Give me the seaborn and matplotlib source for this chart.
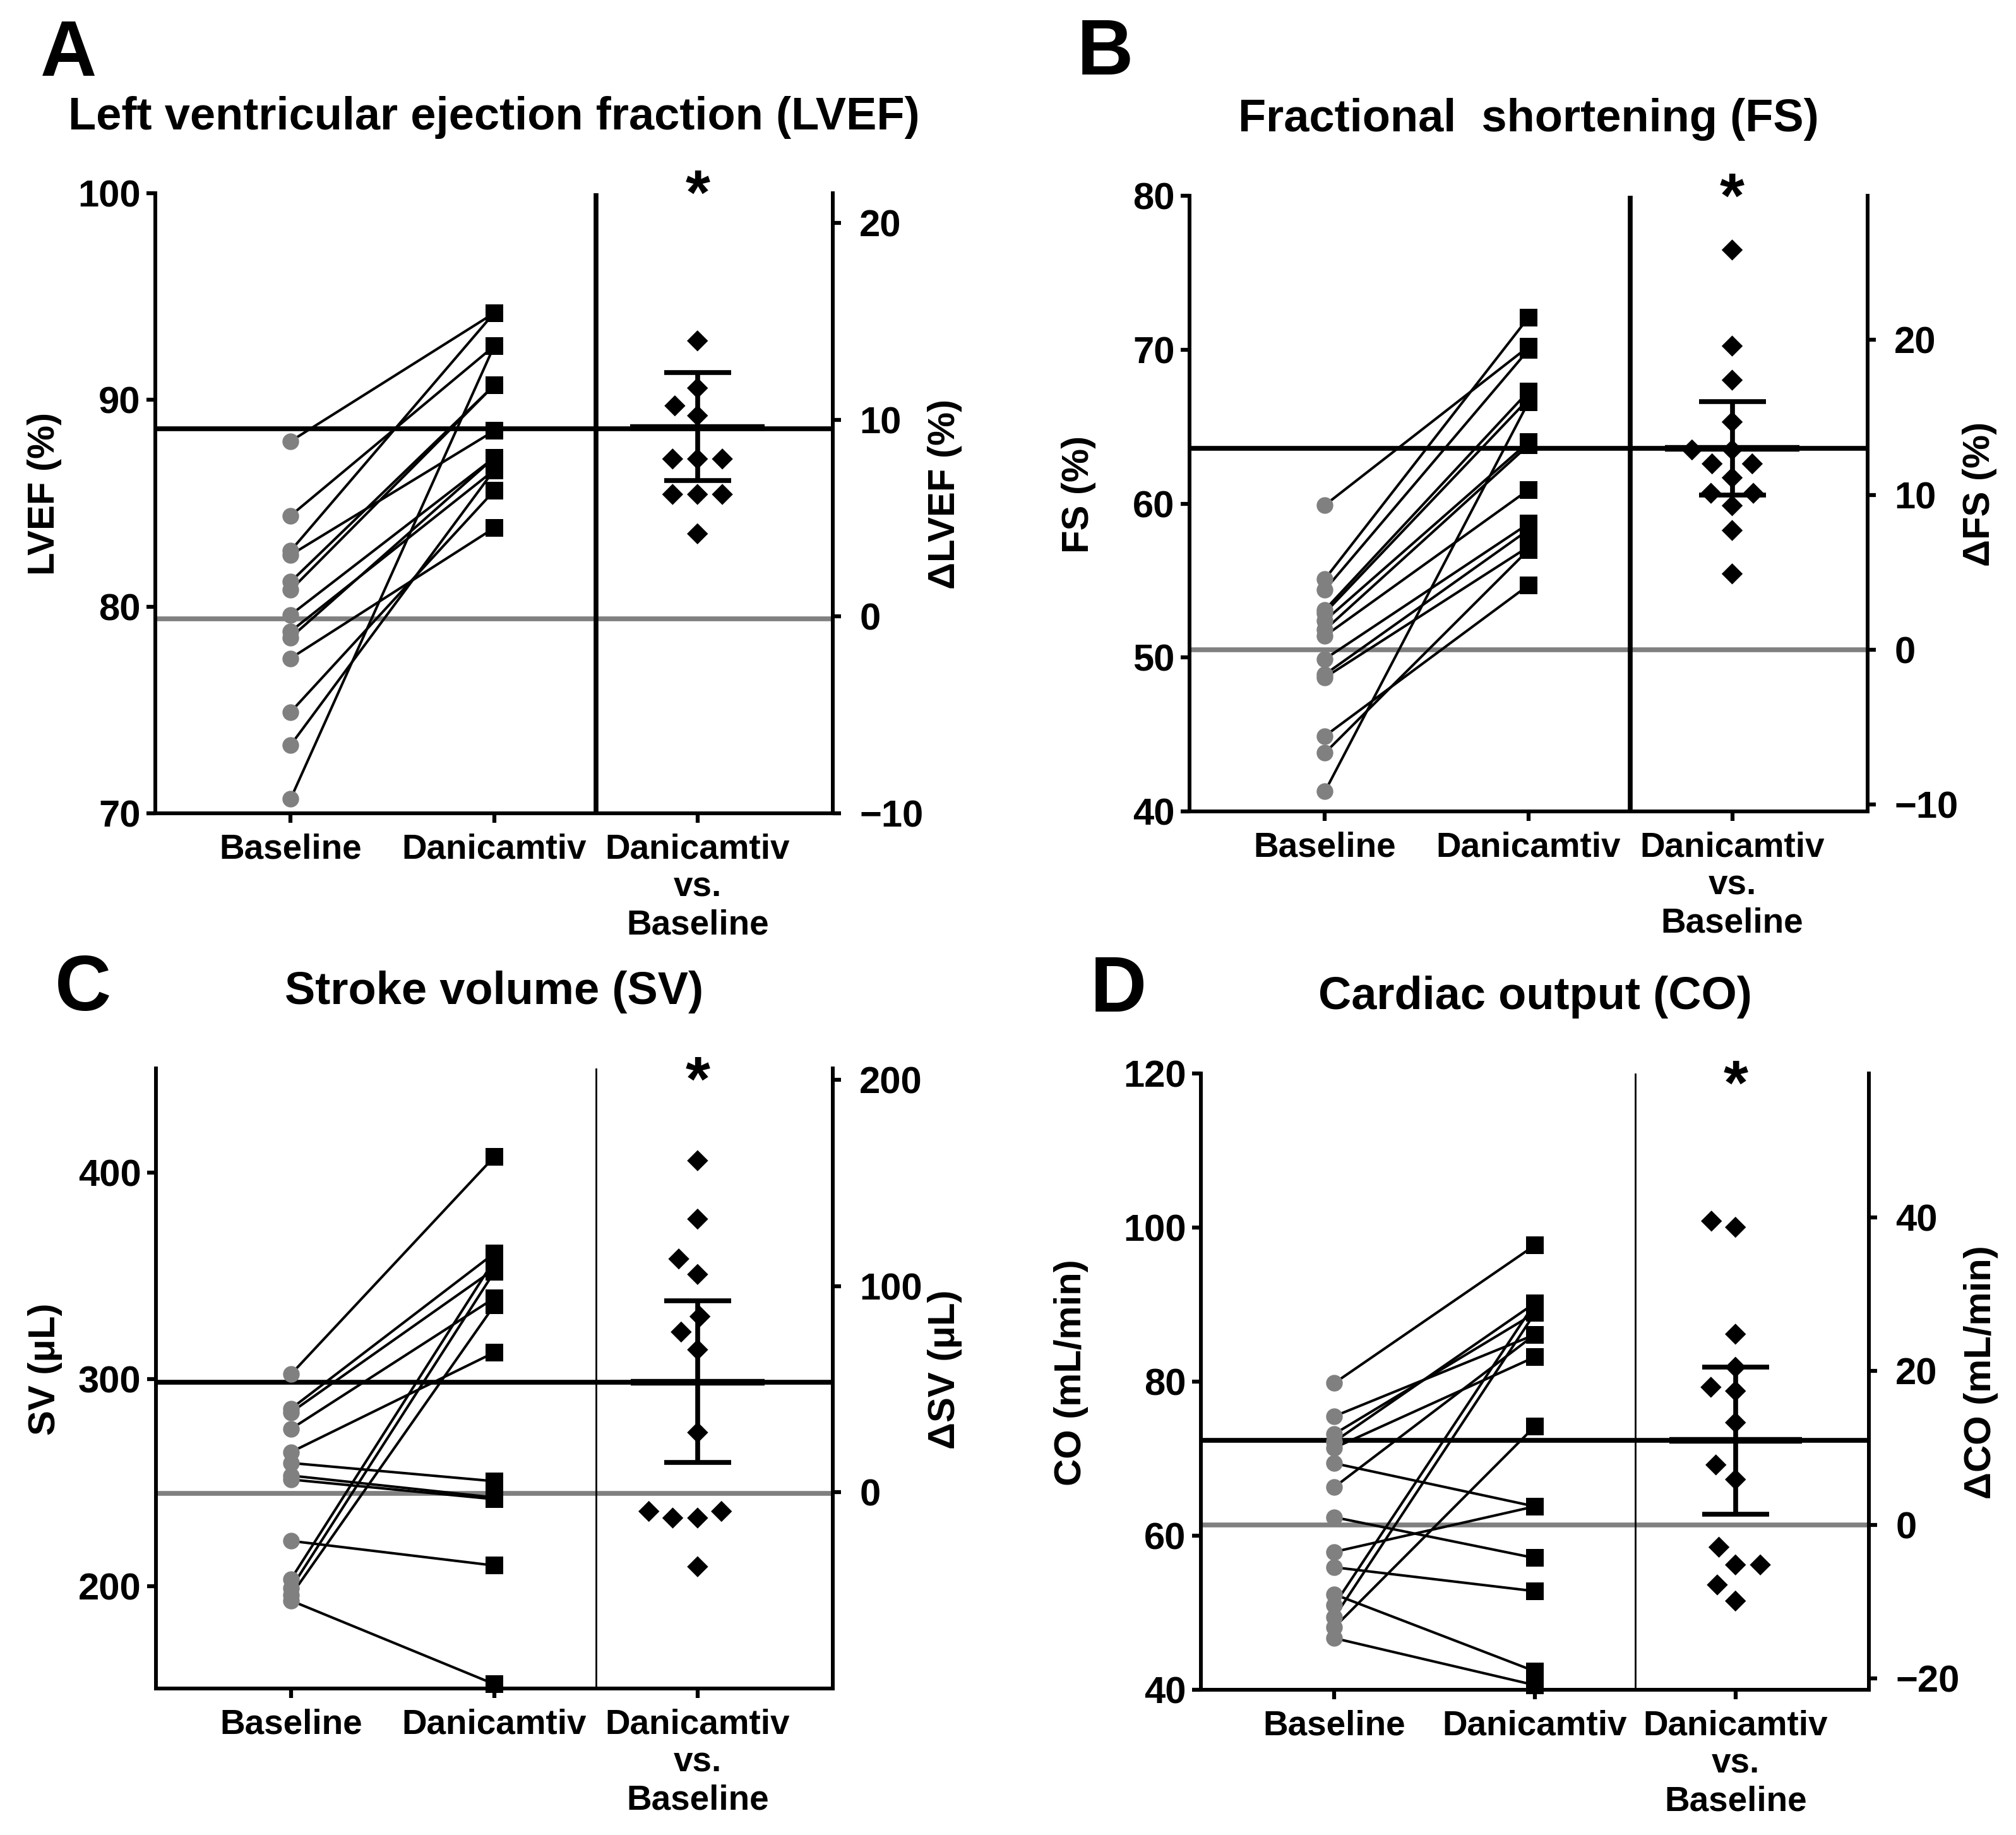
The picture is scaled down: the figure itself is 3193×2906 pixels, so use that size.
import numpy as np
import pandas as pd
import matplotlib
matplotlib.use("Agg")
import matplotlib.pyplot as plt
import seaborn as sns

# values
groups = ["Baseline", "Danicamtiv", "Danicamtiv\nvs.\nBaseline"]

lvef_base = [88.0, 84.4, 82.7, 82.5, 81.2, 80.8, 79.6, 78.8, 78.5, 77.5, 74.9, 73.3, 70.7]
lvef_dan = [94.2, 92.6, 94.2, 88.5, 90.7, 90.7, 87.2, 86.6, 87.2, 83.8, 85.6, 86.6, 92.6]
lvef_delta = [14.0, 11.6, 10.7, 10.2, 8.0, 8.0, 8.0, 6.2, 6.2, 6.2, 4.2]
lvef_lines = [79.4, 88.6]          # baseline mean, danicamtiv mean
lvef_stats = [6.9, 9.6, 12.4]      # lower, mean, upper of the difference

fs_base = [59.9, 55.1, 54.4, 53.1, 52.9, 52.4, 51.8, 51.4, 49.9, 48.9, 48.7, 44.9, 43.8, 41.3]
fs_dan = [70.2, 72.1, 70.0, 67.3, 66.8, 64.0, 63.8, 60.9, 58.7, 58.3, 57.2, 54.7, 57.0, 66.6]
fs_delta = [25.8, 19.6, 17.4, 14.7, 12.9, 12.9, 12.0, 12.0, 11.1, 10.1, 10.1, 9.3, 7.7, 4.9]
fs_lines = [50.5, 63.6]
fs_stats = [10.0, 13.0, 16.0]

sv_base = [302.5, 285.8, 284.0, 276.0, 264.8, 259.5, 253.4, 251.5, 221.8, 203.4, 199.0, 195.5, 192.9]
sv_dan = [407.7, 361.0, 353.3, 339.3, 313.0, 250.7, 242.8, 242.0, 209.9, 357.7, 352.0, 335.8, 152.5]
sv_delta = [160.7, 132.4, 113.1, 105.6, 85.2, 77.7, 69.1, 29.0, -9.2, -12.4, -9.2, -12.4, -36.0]
sv_lines = [244.9, 298.6]
sv_stats = [14.4, 53.4, 92.7]

co_base = [79.8, 75.5, 73.2, 72.2, 71.4, 69.4, 66.3, 62.4, 57.9, 55.9, 52.4, 51.0, 49.4, 48.1, 46.7]
co_dan = [97.7, 86.1, 88.9, 90.2, 83.2, 63.8, 86.1, 57.1, 63.8, 52.8, 42.4, 90.2, 88.9, 74.2, 40.6]
co_delta = [39.5, 38.7, 24.8, 20.5, 17.9, 17.4, 13.3, 7.8, 5.9, -2.9, -5.2, -5.2, -7.8, -9.9]
co_lines = [61.4, 72.4]
co_stats = [1.4, 11.0, 20.5]

W, H, DPI = 3193, 2906, 100

sns.set_style("ticks", rc={"axes.edgecolor": "black", "xtick.color": "black",
                           "ytick.color": "black", "text.color": "black",
                           "axes.labelcolor": "black"})
plt.rcParams["font.family"] = ["Liberation Sans", "DejaVu Sans"]
plt.rcParams["font.weight"] = "bold"
plt.rcParams["axes.labelweight"] = "bold"

fig = plt.figure(figsize=(W / DPI, H / DPI), dpi=DPI)
GRAY = "#808080"


def panel(box, letter, letter_xy, title, title_y, base, dan, delta, lines, stats,
          ylim, yticks, dylim, dyticks, ylabel, dlabel, sep_lw, star_y, lab_off=148):
    l, t, r, b = box
    ax = fig.add_axes([l / W, 1 - b / H, (r - l) / W, (b - t) / H])
    n = len(base)
    df = pd.DataFrame({"subject": np.tile(np.arange(n), 2),
                       "cond": np.repeat([0, 1], n),
                       "value": np.r_[base, dan]})

    ax.axhline(lines[0], color=GRAY, lw=5.5, zorder=1)
    ax.axhline(lines[1], color="black", lw=5.5, zorder=1)
    ax.axvline(1.5, color="black", lw=sep_lw, zorder=1)

    sns.lineplot(data=df, x="cond", y="value", units="subject", estimator=None,
                 color="black", lw=2.9, ax=ax, zorder=2)
    sns.scatterplot(data=df[df.cond == 0], x="cond", y="value", marker="o", s=19 ** 2,
                    color=GRAY, linewidth=0, ax=ax, zorder=3, clip_on=False, legend=False)
    sns.scatterplot(data=df[df.cond == 1], x="cond", y="value", marker="s", s=20 ** 2,
                    color="black", linewidth=0, ax=ax, zorder=3, clip_on=False, legend=False)

    ax2 = ax.twinx()
    sns.swarmplot(x=np.full(len(delta), 2.0), y=delta, native_scale=True, orient="x",
                  marker="D", size=17, color="black", linewidth=10, ax=ax2, zorder=3)
    ax2.collections[-1].set_edgecolor("none")
    lo, mid, hi = stats
    ax2.errorbar([2], [mid], yerr=[[mid - lo], [hi - mid]], fmt="none", ecolor="black",
                 elinewidth=5.5, capsize=38, capthick=5.5, zorder=4)
    ax2.hlines(mid, 2 - 0.33, 2 + 0.33, color="black", lw=7.5, zorder=4)

    ax.set_xlim(-0.665, 2.665)
    ax.set_ylim(*ylim)
    ax.set_yticks(yticks)
    ax2.set_ylim(*dylim)
    ax2.set_yticks(dyticks)
    ax.set_xticks([0, 1, 2], groups)
    ax.set_xlabel("")

    for s in ["top", "right"]:
        ax.spines[s].set_visible(False)
    for s in ["top", "left", "bottom"]:
        ax2.spines[s].set_visible(False)
    for sp in [ax.spines["left"], ax.spines["bottom"], ax2.spines["right"]]:
        sp.set_linewidth(4.3)

    ax.tick_params(axis="y", length=10, width=4.5, pad=7, labelsize=43)
    ax.tick_params(axis="x", length=11, width=4.5, pad=12, labelsize=39.5)
    ax2.tick_params(axis="y", length=9.5, width=4.5, pad=21, labelsize=43)

    wpx = r - l
    ax.set_ylabel(ylabel, fontsize=43)
    ax.yaxis.set_label_coords(-lab_off / wpx, 0.515)
    ax2.set_ylabel(dlabel, fontsize=43, rotation=90)
    ax2.yaxis.set_label_coords(1 + 150 / wpx, 0.515)

    ax.text(2, star_y, "*", transform=ax.get_xaxis_transform(), ha="center",
            va="baseline", fontsize=72)

    fig.text(letter_xy[0] / W, 1 - letter_xy[1] / H, letter, fontsize=89,
             ha="left", va="baseline")
    fig.text((l + r) / 2 / W, 1 - title_y / H, title, fontsize=52,
             ha="center", va="baseline")


panel((246, 306, 1319, 1288), "A", (64, 120), "Left ventricular ejection fraction (LVEF)", 205,
      lvef_base, lvef_dan, lvef_delta, lvef_lines, lvef_stats,
      (70, 100), [70, 80, 90, 100], (-10, 21.5), [-10, 0, 10, 20],
      "LVEF (%)", "\u0394LVEF (%)", 5.5, 0.967)

panel((1884, 310, 2958, 1285), "B", (1706, 118), "Fractional  shortening (FS)", 208,
      fs_base, fs_dan, fs_delta, fs_lines, fs_stats,
      (40, 80), [40, 50, 60, 70, 80], (-10.43, 29.3), [-10, 0, 10, 20],
      "FS (%)", "\u0394FS (%)", 5.5, 0.965)

panel((247, 1692, 1319, 2674), "C", (87, 1600), "Stroke volume (SV)", 1590,
      sv_base, sv_dan, sv_delta, sv_lines, sv_stats,
      (150.4, 450.4), [200, 300, 400], (-95, 205.4), [0, 100, 200],
      "SV (\u03bcL)", "\u0394SV (\u03bcL)", 2.0, 0.948)

panel((1902, 1700, 2960, 2676), "D", (1727, 1602), "Cardiac output (CO)", 1598,
      co_base, co_dan, co_delta, co_lines, co_stats,
      (40, 120), [40, 60, 80, 100, 120], (-21.44, 58.7), [-20, 0, 20, 40],
      "CO (mL/min)", "\u0394CO (mL/min)", 2.0, 0.95, lab_off=178)

fig.savefig("out.png", dpi=DPI)
